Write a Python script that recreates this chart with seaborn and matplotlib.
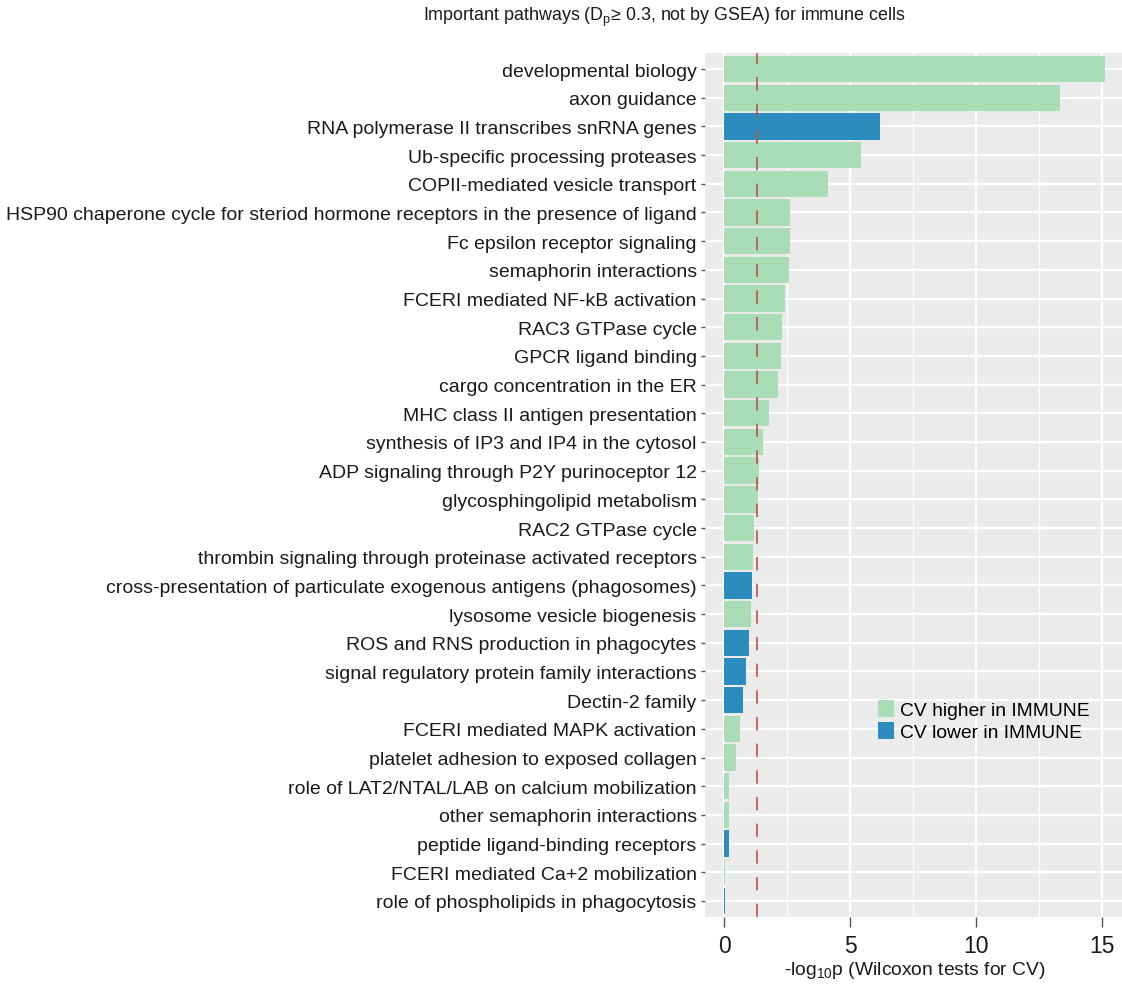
import matplotlib
matplotlib.use("Agg")
import matplotlib.pyplot as plt
from matplotlib import font_manager
from matplotlib.patches import Patch
from matplotlib.ticker import MultipleLocator
import pandas as pd
import seaborn as sns

pathways = [
    "developmental biology",
    "axon guidance",
    "RNA polymerase II transcribes snRNA genes",
    "Ub-specific processing proteases",
    "COPII-mediated vesicle transport",
    "HSP90 chaperone cycle for steriod hormone receptors in the presence of ligand",
    "Fc epsilon receptor signaling",
    "semaphorin interactions",
    "FCERI mediated NF-kB activation",
    "RAC3 GTPase cycle",
    "GPCR ligand binding",
    "cargo concentration in the ER",
    "MHC class II antigen presentation",
    "synthesis of IP3 and IP4 in the cytosol",
    "ADP signaling through P2Y purinoceptor 12",
    "glycosphingolipid metabolism",
    "RAC2 GTPase cycle",
    "thrombin signaling through proteinase activated receptors",
    "cross-presentation of particulate exogenous antigens (phagosomes)",
    "lysosome vesicle biogenesis",
    "ROS and RNS production in phagocytes",
    "signal regulatory protein family interactions",
    "Dectin-2 family",
    "FCERI mediated MAPK activation",
    "platelet adhesion to exposed collagen",
    "role of LAT2/NTAL/LAB on calcium mobilization",
    "other semaphorin interactions",
    "peptide ligand-binding receptors",
    "FCERI mediated Ca+2 mobilization",
    "role of phospholipids in phagocytosis",
]

neg_log10_p = [
    15.13, 13.35, 6.19, 5.42, 4.13, 2.63, 2.63, 2.58, 2.42, 2.30,
    2.25, 2.13, 1.77, 1.56, 1.38, 1.34, 1.19, 1.14, 1.11, 1.08,
    0.98, 0.87, 0.77, 0.62, 0.49, 0.21, 0.19, 0.19, 0.05, 0.02,
]

HIGHER = "CV higher in IMMUNE"
LOWER = "CV lower in IMMUNE"
direction = [
    HIGHER, HIGHER, LOWER, HIGHER, HIGHER, HIGHER, HIGHER, HIGHER, HIGHER, HIGHER,
    HIGHER, HIGHER, HIGHER, HIGHER, HIGHER, HIGHER, HIGHER, HIGHER, LOWER, HIGHER,
    LOWER, LOWER, LOWER, HIGHER, HIGHER, HIGHER, HIGHER, LOWER, HIGHER, LOWER,
]

colors = {HIGHER: "#a8ddb5", LOWER: "#2b8cbe"}
significance_cut = 1.30  # -log10(0.05)

df = pd.DataFrame({"pathway": pathways, "score": neg_log10_p, "direction": direction})

plt.rcParams["font.family"] = ["Liberation Sans", "DejaVu Sans"]
plt.rcParams["mathtext.fontset"] = "custom"
plt.rcParams["mathtext.rm"] = "Liberation Sans"

# narrow face for the title when it is installed
installed = {f.name for f in font_manager.fontManager.ttflist}
if "Liberation Sans Narrow" in installed:
    title_family, title_size = ["Liberation Sans Narrow", "Liberation Sans"], 15.8
else:
    title_family, title_size = ["Liberation Sans", "DejaVu Sans"], 12.9

fig = plt.figure(figsize=(11.22, 9.87), dpi=100)
W, H = 1122, 987
left, right, top, bottom = 705, 1124, 54, 918
ax = fig.add_axes([left / W, 1 - bottom / H, (right - left) / W, (bottom - top) / H])
ax.set_facecolor("#ebebeb")

sns.barplot(data=df, x="score", y="pathway", hue="direction", palette=colors,
            dodge=False, width=0.92, orient="h", ax=ax, legend=False,
            saturation=1, linewidth=0)

ax.set_xlim(-0.755, 15.87)
ax.set_ylim(len(pathways) - 0.44, -0.56)

ax.xaxis.set_major_locator(MultipleLocator(5))
ax.xaxis.set_minor_locator(MultipleLocator(2.5))
ax.grid(which="major", axis="both", color="white", linewidth=1.6, zorder=0)
ax.grid(which="minor", axis="x", color="white", linewidth=0.8, zorder=0)
ax.set_axisbelow(True)
for s in ax.spines.values():
    s.set_visible(False)

ax.axvline(significance_cut, color="#bf5047", linewidth=1.2,
           linestyle=(0, (8, 8)), zorder=3)

ax.tick_params(axis="y", which="major", length=3, width=1, color="#555555",
               labelsize=14, pad=3, labelcolor="#1a1a1a")
ax.tick_params(axis="x", which="major", length=7, width=1, color="#555555",
               labelsize=16.5, pad=5.5, labelcolor="#1a1a1a")
ax.tick_params(axis="x", which="minor", length=0)

ax.set_ylabel("")
ax.set_xlabel(r"-log$_{\mathregular{10}}$p (Wilcoxon tests for CV)",
              fontsize=13.9, labelpad=1, color="#1a1a1a")

handles = [Patch(facecolor=colors[HIGHER], edgecolor="none", label=HIGHER),
           Patch(facecolor=colors[LOWER], edgecolor="none", label=LOWER)]
fig.legend(handles=handles, loc="upper left",
           bbox_to_anchor=(878 / W, 1 - 701 / H), frameon=False,
           fontsize=13.9, handlelength=0.85, handleheight=1.0,
           handletextpad=0.3, labelspacing=0.12, borderpad=0, borderaxespad=0)

fig.text(423 / W, 1 - 17 / H,
         r"Important pathways (D$_\mathregular{p}$≥ 0.3, not by GSEA) for immune cells",
         ha="left", va="center", fontsize=title_size, family=title_family,
         color="#1a1a1a")

fig.savefig("out.png", dpi=100)
